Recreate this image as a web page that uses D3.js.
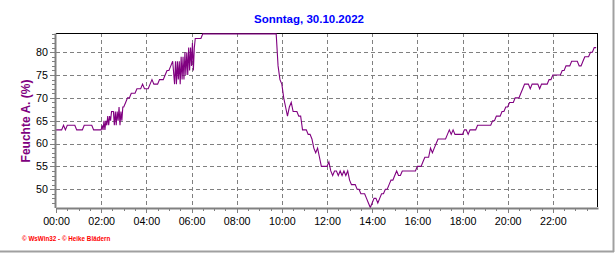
<!DOCTYPE html>
<html>
<head>
<meta charset="utf-8">
<script src="https://cdn.jsdelivr.net/npm/d3@7"></script>
<style>
  body { margin: 0; background: #fff; }
  svg { display: block; font-family: Arial, "Liberation Sans", sans-serif; }
</style>
</head>
<body>
<div id="chart"></div>
<script>
const title = "Sonntag, 30.10.2022";
const yLabel = "Feuchte A. (%)";
const credit = "\u00a9 WsWin32 - \u00a9 Heike Bl\u00e4dern";

const xTickHours = [0, 2, 4, 6, 8, 10, 12, 14, 16, 18, 20, 22];
const xTickLabels = ["00:00", "02:00", "04:00", "06:00", "08:00", "10:00",
                     "12:00", "14:00", "16:00", "18:00", "20:00", "22:00"];
const yTickValues = [50, 55, 60, 65, 70, 75, 80];

// Feuchte A. (%), one value every 5 minutes, one row per hour
// (null = covered by the 2.5-minute bursts below)
const humidity = [
  63, 63, 63, 63, 64, 63, 64, 64, 64, 64, 64, 63, // 00
  63, 63, 63, 64, 64, 64, 64, 64, 63, 63, 63, 63, // 01
  null, null, null, null, null, null, null, null, null, null, null, null, // 02
  68, 69, 70, 70, 71, 71, 71, 72, 72, 72, 73, 72, // 03
  72, 72, 73, 74, 73, 73, 73, 74, 74, 74, 75, 76, // 04
  76, 77, 78, null, null, null, null, null, null, null, null, null, // 05
  null, null, null, 83, 83, 83, 84, 84, 84, 84, 84, 84, // 06
  84, 84, 84, 84, 84, 84, 84, 84, 84, 84, 84, 84, // 07
  84, 84, 84, 84, 84, 84, 84, 84, 84, 84, 84, 84, // 08
  84, 84, 84, 84, 84, 84, 84, 84, 84, 84, 77, 74, // 09
  73, 70, 68, 66, 68, 69, 67, 67, 67, 66, 66, 63, // 10
  63, 63, 62, 62, 61, 59, 58, 59, 57, 55, 55, 55, // 11
  55, 56, 54, 53, 54, 54, 53, 54, 53, 54, 53, 54, // 12
  52, 51, 51, 51, 50, 50, 49, 49, 49, 48, 47, 46, // 13
  47, 48, 48, 47, 48, 49, 49, 50, 50, 51, 52, 52, // 14
  53, 54, 53, 53, 54, 54, 54, 54, 54, 54, 54, 54, // 15
  55, 55, 55, 56, 57, 57, 57, 59, 58, 59, 60, 61, // 16
  61, 61, 61, 61, 62, 63, 62, 63, 62, 62, 62, 62, // 17
  62, 63, 63, 62, 63, 63, 63, 63, 64, 64, 64, 64, // 18
  64, 64, 64, 64, 65, 65, 66, 66, 66, 67, 67, 68, // 19
  68, 69, 69, 69, 70, 70, 70, 71, 72, 73, 73, 73, // 20
  72, 73, 73, 73, 73, 72, 73, 73, 73, 73, 74, 74, // 21
  75, 75, 75, 75, 75, 76, 76, 77, 77, 77, 78, 78, // 22
  78, 78, 77, 77, 78, 79, 79, 79, 80, 80, 81, 81  // 23
];

// noisy stretches, one value every 2.5 minutes
const burst1Start = 120; // 02:00, minutes
const burst1 = [63, 64, 63, 65, 63, 65, 64, 66, 64, 66, 65, 67,
                67, 67, 64, 67, 64, 67, 65, 68, 64, 67, 65, 68];
const burst2Start = 315; // 05:15
const burst2 = [73, 78, 73, 78, 74, 78, 73, 79, 74, 79, 74, 80,
                75, 80, 75, 81, 76, 81, 77, 82, 76, 81, 83];

const points = [];
humidity.forEach((v, i) => { if (v !== null) points.push({ t: i * 5, v }); });
burst1.forEach((v, i) => points.push({ t: burst1Start + i * 2.5, v }));
burst2.forEach((v, i) => points.push({ t: burst2Start + i * 2.5, v }));
points.sort((a, b) => a.t - b.t);

const width = 616, height = 253;
const plot = { left: 56, right: 597, top: 33, bottom: 207 };

const svg = d3.select("#chart")
  .append("svg")
  .attr("width", width)
  .attr("height", height);

const x = d3.scaleLinear().domain([0, 24]).range([plot.left, plot.right + 1]);
const y = d3.scaleLinear().domain([46, 84.2]).range([plot.bottom + 0.5, plot.top]);

const px = v => Math.round(v) + 0.5;

// window frame (right / bottom)
svg.append("line")
  .attr("x1", 613.5).attr("x2", 613.5).attr("y1", 0).attr("y2", 252)
  .attr("stroke", "#a0a0a0").attr("stroke-width", 2);
svg.append("line")
  .attr("x1", 0).attr("x2", 614).attr("y1", 251.5).attr("y2", 251.5)
  .attr("stroke", "#a0a0a0").attr("stroke-width", 2);

// title
svg.append("text")
  .attr("x", 309).attr("y", 23)
  .attr("text-anchor", "middle")
  .attr("font-size", 11.5).attr("font-weight", "bold")
  .attr("fill", "#0000ff")
  .text(title);

// grid
const grid = svg.append("g")
  .attr("stroke", "#808080")
  .attr("stroke-dasharray", "4,3")
  .attr("shape-rendering", "crispEdges");

grid.selectAll("line.h")
  .data(yTickValues)
  .join("line")
  .attr("class", "h")
  .attr("x1", plot.left).attr("x2", plot.right)
  .attr("y1", d => px(y(d))).attr("y2", d => px(y(d)));

grid.selectAll("line.v")
  .data(xTickHours.slice(1))
  .join("line")
  .attr("class", "v")
  .attr("x1", d => px(x(d))).attr("x2", d => px(x(d)))
  .attr("y1", plot.top).attr("y2", plot.bottom);

// top / right border
svg.append("path")
  .attr("d", `M${plot.left},${plot.top + 0.5}H${plot.right + 0.5}V${plot.bottom}`)
  .attr("fill", "none")
  .attr("stroke", "#000")
  .attr("shape-rendering", "crispEdges");

// data line
const line = d3.line()
  .x(d => x(d.t / 60))
  .y(d => y(d.v));

svg.append("path")
  .datum(points)
  .attr("d", line)
  .attr("fill", "none")
  .attr("stroke", "#800080")
  .attr("stroke-width", 1.1);

// axes
const axisColor = "#808080";

const yMinor = svg.append("g")
  .attr("transform", `translate(${plot.left - 1},0)`)
  .call(d3.axisLeft(y).tickValues(d3.range(47, 85)).tickSize(3).tickFormat(""));
yMinor.select(".domain").remove();

const yAxis = svg.append("g")
  .attr("transform", `translate(${plot.left - 1},0)`)
  .call(d3.axisLeft(y).tickValues(yTickValues).tickSize(5).tickSizeOuter(0).tickPadding(2));

const xMinor = svg.append("g")
  .attr("transform", `translate(0,${plot.bottom + 1})`)
  .call(d3.axisBottom(x).tickValues(d3.range(0, 24, 0.5)).tickSize(3).tickFormat(""));
xMinor.select(".domain").remove();

const xAxis = svg.append("g")
  .attr("transform", `translate(0,${plot.bottom + 1})`)
  .call(d3.axisBottom(x).tickValues(xTickHours).tickSize(5).tickSizeOuter(0)
    .tickFormat((d, i) => xTickLabels[i]).tickPadding(4));

[yMinor, yAxis, xMinor, xAxis].forEach(g => {
  g.selectAll(".tick line").attr("stroke", axisColor).attr("shape-rendering", "crispEdges");
  g.selectAll(".domain").attr("stroke", axisColor).attr("stroke-width", 2);
  g.selectAll("text").attr("font-size", 10.7).attr("fill", "#000")
    .attr("font-family", "Arial, 'Liberation Sans', sans-serif");
});

// y label
svg.append("text")
  .attr("transform", "translate(30,121) rotate(-90)")
  .attr("text-anchor", "middle")
  .attr("font-size", 12).attr("font-weight", "bold")
  .attr("fill", "#800080")
  .text(yLabel);

// credit
svg.append("text")
  .attr("x", 22).attr("y", 241)
  .attr("font-size", 6.3).attr("font-weight", "bold")
  .attr("fill", "#ff0000")
  .text(credit);
</script>
</body>
</html>
